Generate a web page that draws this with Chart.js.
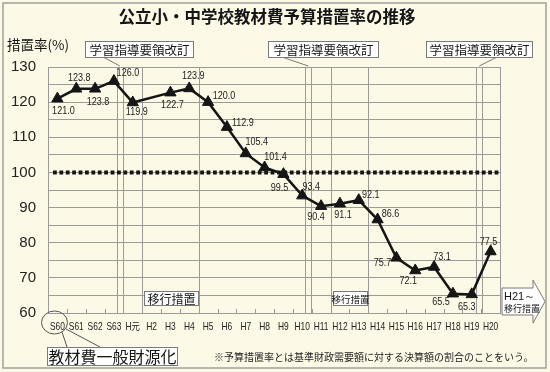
<!DOCTYPE html>
<html lang="ja">
<head>
<meta charset="utf-8">
<title>公立小・中学校教材費予算措置率の推移</title>
<script src="https://cdn.jsdelivr.net/npm/chart.js@4.4.1/dist/chart.umd.min.js"></script>
<style>
  html, body { margin: 0; padding: 0; background: #fcf9e6; }
  canvas { display: block; }
</style>
</head>
<body>
<canvas id="chart" width="550" height="372"></canvas>
<script>
// ---- data ----
const years = ['S60', 'S61', 'S62', 'S63', 'H元', 'H2', 'H3', 'H4', 'H5', 'H6', 'H7', 'H8',
               'H9', 'H10', 'H11', 'H12', 'H13', 'H14', 'H15', 'H16', 'H17', 'H18', 'H19', 'H20'];
const rates = [121.0, 123.8, 123.8, 126.0, 119.9, null, 122.7, 123.9, 120.0, 112.9, 105.4, 101.4,
               99.5, 93.4, 90.4, 91.1, 92.1, 86.6, 75.7, 72.1, 73.1, 65.5, 65.3, 77.5];
const referenceRate = 100;

// where each value label sits relative to its point (dx, dy in px)
const labelOffsets = [[6, 12], [3, -11], [3, 13], [14, -8], [4, 10], null, [2, 12], [4, -12],
                      [16, -6], [16, -4], [11, -11], [11, -10], [-4, 14], [9, -9], [-5, 11], [3, 11],
                      [12, -5], [13, -5], [-14, 5], [-7, 11], [8, -10], [-12, 8], [-5, 13], [-2, -9]];

// annotation bands, in category units
const revisionBands = [[3.17, 3.47], [13.17, 13.47], [22.25, 22.55]];
const revisionBoxes = [[85, 108, 103], [268, 110, 282], [426, 106, 497]]; // x, width, pointer start x
const transitionBands = [[4.5, 7.5, 12], [14.5, 16.5, 9.5]];              // from, to, font size

const BG = '#fcf9e6';
const GRID = '#9a9a9a';
const INK = '#151515';
const JP = '"Noto Sans CJK JP", "Noto Sans CJK SC", sans-serif';
const SANS = '"Liberation Sans", Arial, sans-serif';

function bandX(chart, v) {
  const s = chart.scales.x;
  const step = s.getPixelForValue(1) - s.getPixelForValue(0);
  return s.getPixelForValue(0) + v * step;
}

// the original uses a narrow face, so squeeze the text horizontally
function narrowText(ctx, text, x, y, squeeze) {
  ctx.save();
  ctx.translate(x, y);
  ctx.scale(squeeze, 1);
  ctx.fillText(text, 0, 0);
  ctx.restore();
}

function textBox(ctx, x, y, w, h, text, font) {
  ctx.fillStyle = '#ffffff';
  ctx.fillRect(x, y, w, h);
  ctx.strokeStyle = '#7a7a7a';
  ctx.lineWidth = 1;
  ctx.strokeRect(x + 0.5, y + 0.5, w, h);
  ctx.fillStyle = INK;
  ctx.font = font;
  ctx.textAlign = 'center';
  ctx.textBaseline = 'middle';
  ctx.fillText(text, x + w / 2 + 0.5, y + h / 2 + 1);
}

const decorations = {
  id: 'decorations',
  beforeDraw(chart) {
    const ctx = chart.ctx;
    ctx.save();
    ctx.fillStyle = BG;
    ctx.fillRect(0, 0, chart.width, chart.height);
    ctx.restore();
  },
  beforeDatasetsDraw(chart) {
    const ctx = chart.ctx;
    const a = chart.chartArea;
    const y = chart.scales.y;
    ctx.save();
    // frame
    ctx.strokeStyle = GRID;
    ctx.lineWidth = 1;
    ctx.strokeRect(a.left + 0.5, a.top + 0.5, a.right - a.left, a.bottom - a.top);
    // bands
    revisionBands.concat(transitionBands).forEach(b => {
      const x1 = Math.round(bandX(chart, b[0])) + 0.5;
      const x2 = Math.round(bandX(chart, b[1])) + 0.5;
      ctx.strokeRect(x1, a.top + 0.5, x2 - x1, a.bottom - a.top);
    });
    // small ticks at category borders
    ctx.beginPath();
    for (let i = 0; i < years.length - 1; i++) {
      const x = Math.round(bandX(chart, i + 0.5)) + 0.5;
      ctx.moveTo(x, a.bottom);
      ctx.lineTo(x, a.bottom - 4);
    }
    ctx.stroke();
    // 100% reference line
    const yr = y.getPixelForValue(referenceRate);
    ctx.strokeStyle = INK;
    ctx.lineWidth = 4;
    ctx.setLineDash([3.8, 2.6]);
    ctx.beginPath();
    ctx.moveTo(a.left + 5, yr);
    ctx.lineTo(a.right, yr);
    ctx.stroke();
    ctx.restore();
  },
  afterDatasetsDraw(chart) {
    const ctx = chart.ctx;
    const pts = chart.getDatasetMeta(0).data;
    ctx.save();
    ctx.font = '10.5px ' + SANS;
    ctx.fillStyle = '#222';
    ctx.textAlign = 'center';
    ctx.textBaseline = 'middle';
    rates.forEach((v, i) => {
      if (v === null || !labelOffsets[i]) return;
      const p = pts[i];
      narrowText(ctx, v.toFixed(1), p.x + labelOffsets[i][0], p.y + labelOffsets[i][1], 0.86);
    });
    ctx.restore();
  },
  afterDraw(chart) {
    const ctx = chart.ctx;
    const a = chart.chartArea;
    const xs = chart.scales.x;
    ctx.save();
    // outer border
    ctx.strokeStyle = '#a0a0a0';
    ctx.lineWidth = 1.5;
    ctx.strokeRect(3, 3, 543, 365);

    // category labels
    ctx.fillStyle = '#222';
    ctx.textAlign = 'center';
    ctx.textBaseline = 'middle';
    ctx.font = '10.5px ' + SANS + ', "Noto Sans CJK JP"';
    years.forEach((lab, i) => {
      narrowText(ctx, lab, xs.getPixelForValue(i), a.bottom + 14, 0.8);
    });

    // title and axis name
    ctx.fillStyle = INK;
    ctx.textBaseline = 'middle';
    ctx.textAlign = 'center';
    ctx.font = 'bold 16.5px ' + JP;
    ctx.fillText('公立小・中学校教材費予算措置率の推移', 267, 17);
    ctx.textAlign = 'left';
    ctx.font = '13.5px ' + JP;
    ctx.fillText('措置率(%)', 7, 45);

    // revision callouts
    revisionBoxes.forEach((b, i) => {
      const band = revisionBands[i];
      const tx = bandX(chart, (band[0] + band[1]) / 2);
      ctx.strokeStyle = '#7a7a7a';
      ctx.lineWidth = 1;
      ctx.beginPath();
      ctx.moveTo(b[2], 57);
      ctx.lineTo(tx, a.top - 1);
      ctx.stroke();
      textBox(ctx, b[0], 41, b[1], 16, '学習指導要領改訂', '12.5px ' + JP);
    });

    // transition boxes at the bottom of their bands
    transitionBands.forEach(b => {
      const x1 = Math.round(bandX(chart, b[0]));
      const x2 = Math.round(bandX(chart, b[1]));
      textBox(ctx, x1 + 2, 291, x2 - x1 - 3, 14, '移行措置', b[2] + 'px ' + JP);
    });

    // H21~ arrow
    ctx.beginPath();
    ctx.moveTo(502, 288);
    ctx.lineTo(533, 288);
    ctx.lineTo(533, 280);
    ctx.lineTo(545, 301.5);
    ctx.lineTo(533, 323);
    ctx.lineTo(533, 315);
    ctx.lineTo(502, 315);
    ctx.closePath();
    ctx.fillStyle = '#ffffff';
    ctx.fill();
    ctx.strokeStyle = '#7a7a7a';
    ctx.lineWidth = 1;
    ctx.stroke();
    ctx.fillStyle = INK;
    ctx.textAlign = 'left';
    ctx.font = '11px ' + SANS;
    ctx.fillText('H21～', 504, 297);
    ctx.font = '9px ' + JP;
    ctx.fillText('移行措置', 504, 309);

    // S60 circle and callout
    ctx.strokeStyle = '#555';
    ctx.lineWidth = 1;
    ctx.beginPath();
    ctx.ellipse(54.5, 322.5, 13, 11.5, 0, 0, Math.PI * 2);
    ctx.stroke();
    ctx.beginPath();
    ctx.moveTo(62, 332);
    ctx.lineTo(67, 347);
    ctx.moveTo(66, 329);
    ctx.lineTo(100, 347);
    ctx.stroke();
    textBox(ctx, 47, 347, 130, 18, '教材費一般財源化', '16px ' + JP);

    // footnote
    ctx.fillStyle = '#222';
    ctx.textAlign = 'left';
    ctx.font = '10px ' + JP;
    ctx.fillText('※予算措置率とは基準財政需要額に対する決算額の割合のことをいう。', 214, 357);
    ctx.restore();
  }
};

new Chart(document.getElementById('chart'), {
  type: 'line',
  data: {
    labels: years,
    datasets: [{
      data: rates,
      spanGaps: true,
      borderColor: INK,
      borderWidth: 2.5,
      tension: 0,
      pointStyle: 'triangle',
      pointRadius: 6.5,
      pointBackgroundColor: INK,
      pointBorderColor: INK,
      pointBorderWidth: 1
    }]
  },
  options: {
    responsive: false,
    animation: false,
    devicePixelRatio: 1,
    layout: { padding: { top: 67, right: 50, left: 0, bottom: 0 } },
    scales: {
      x: {
        offset: true,
        grid: { display: false, drawTicks: false },
        border: { display: false },
        ticks: { display: false },
        afterFit(s) { s.height = 59; }
      },
      y: {
        min: 60,
        max: 130,
        grid: { color: GRID, drawTicks: false },
        border: { color: GRID },
        ticks: {
          stepSize: 5, autoSkip: false, padding: 12,
          color: '#222', font: { family: SANS, size: 15 },
          callback: v => (v % 10 === 0 ? v : '')
        },
        afterFit(s) { s.width = 48; }
      }
    },
    plugins: { legend: { display: false }, tooltip: { enabled: false } }
  },
  plugins: [decorations]
});
</script>
</body>
</html>
